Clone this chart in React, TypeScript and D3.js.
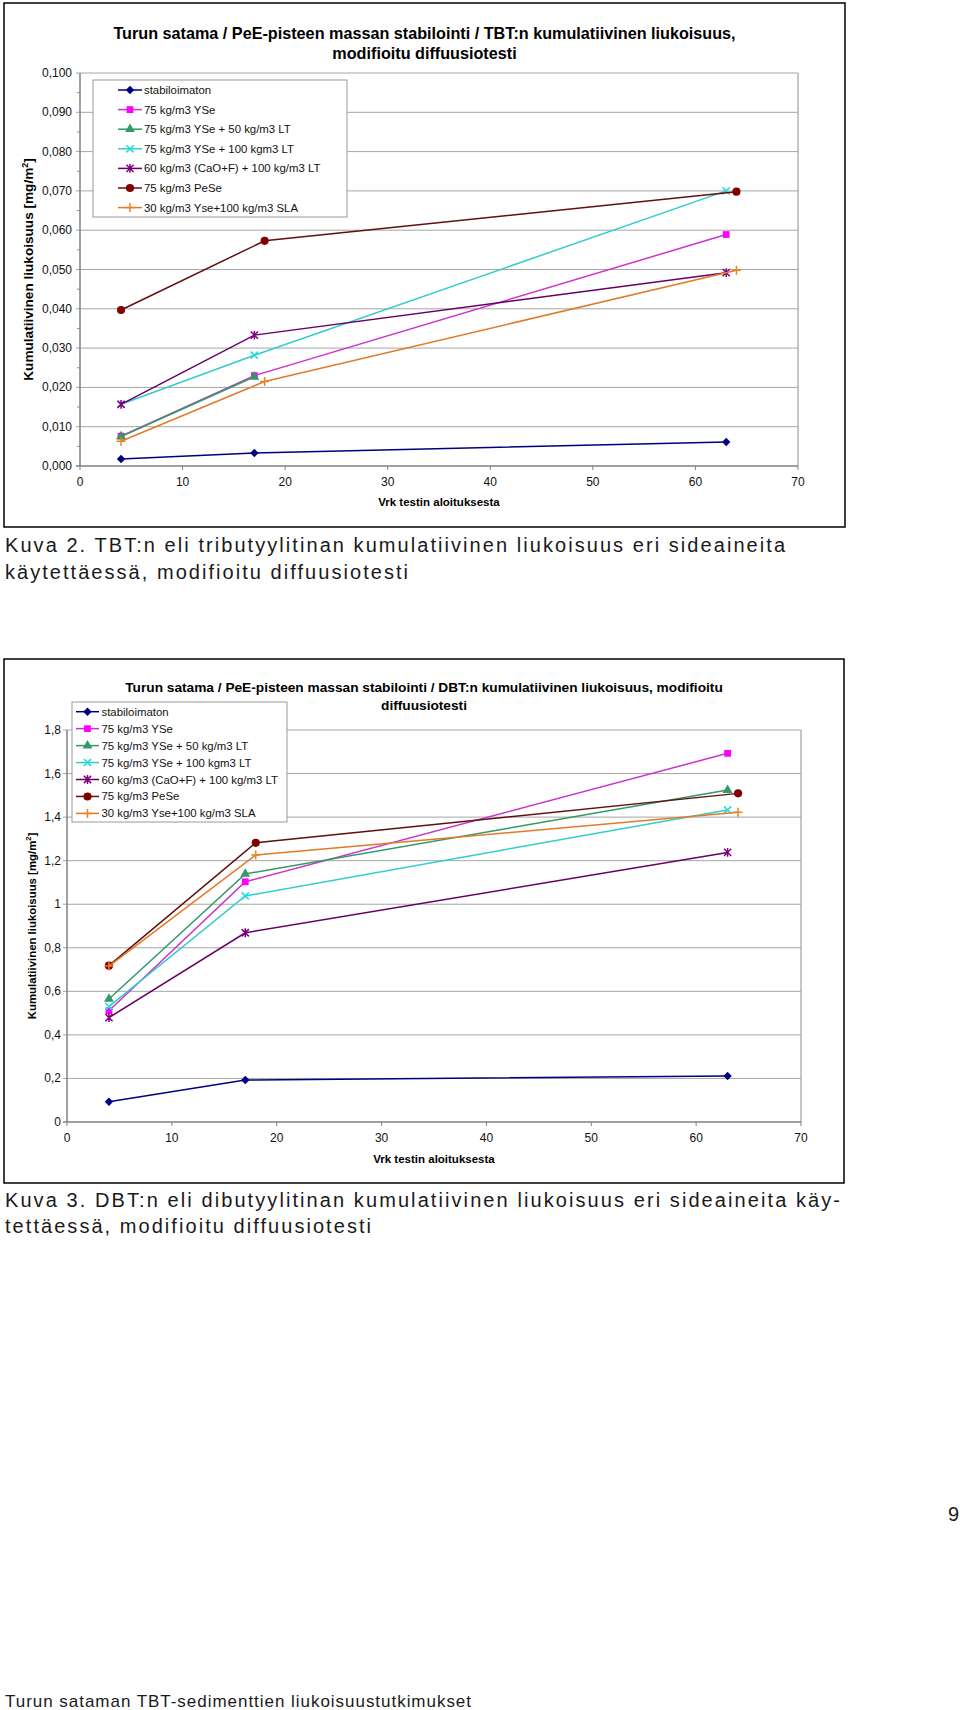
import React from "react";
import * as d3 from "d3";

const seriesNames = [
  "stabiloimaton",
  "75 kg/m3 YSe",
  "75 kg/m3 YSe + 50 kg/m3 LT",
  "75 kg/m3 YSe + 100 kgm3 LT",
  "60 kg/m3 (CaO+F) + 100 kg/m3 LT",
  "75 kg/m3 PeSe",
  "30 kg/m3 Yse+100 kg/m3 SLA",
];
const lineColors = ["#000080", "#cc33cc", "#339966", "#33cccc", "#660066", "#601010", "#e07b2a"];
const markerColors = ["#000080", "#ff00ff", "#339966", "#22dddd", "#800080", "#800000", "#f08020"];
const markerShapes = ["diamond", "square", "triangle", "x", "star", "circle", "plus"];

// days since test start
const daysMain = [4, 17, 63];
const daysShifted = [4, 18, 64];
const seriesDays = [daysMain, daysMain, daysMain, daysMain, daysMain, daysShifted, daysShifted];

// TBT (Kuva 2), mg/m2
const tbtStabiloimaton = [0.0018, 0.0033, 0.0061];
const tbtYSe = [0.0076, 0.023, 0.0589];
const tbtYSeLT50 = [0.0075, 0.0227];
const tbtYSeLT100 = [0.0157, 0.0282, 0.07];
const tbtCaOF = [0.0157, 0.0333, 0.0492];
const tbtPeSe = [0.0397, 0.0573, 0.0698];
const tbtSLA = [0.0063, 0.0215, 0.0498];

// DBT (Kuva 3), mg/m2
const dbtStabiloimaton = [0.093, 0.193, 0.211];
const dbtYSe = [0.511, 1.103, 1.693];
const dbtYSeLT50 = [0.565, 1.139, 1.524];
const dbtYSeLT100 = [0.53, 1.038, 1.433];
const dbtCaOF = [0.479, 0.869, 1.238];
const dbtPeSe = [0.718, 1.282, 1.509];
const dbtSLA = [0.716, 1.226, 1.422];

const xTicks = [0, 10, 20, 30, 40, 50, 60, 70];
const tbtYTicks = [0, 0.01, 0.02, 0.03, 0.04, 0.05, 0.06, 0.07, 0.08, 0.09, 0.1];
const dbtYTicks = [0, 0.2, 0.4, 0.6, 0.8, 1, 1.2, 1.4, 1.6, 1.8];

const tbtTitle = [
  "Turun satama / PeE-pisteen massan stabilointi / TBT:n kumulatiivinen liukoisuus,",
  "modifioitu diffuusiotesti",
];
const dbtTitle = [
  "Turun satama / PeE-pisteen massan stabilointi / DBT:n kumulatiivinen liukoisuus, modifioitu",
  "diffuusiotesti",
];
const xAxisTitle = "Vrk testin aloituksesta";

const FONT = "'Liberation Sans', Arial, Helvetica, sans-serif";

function Marker({ shape, x, y, color }: { shape: string; x: number; y: number; color: string }) {
  if (shape === "diamond") {
    const s = 4.2;
    return <path d={`M${x},${y - s}L${x + s},${y}L${x},${y + s}L${x - s},${y}Z`} fill={color} />;
  }
  if (shape === "square") {
    const p = d3.symbol(d3.symbolSquare, 46)();
    return <path d={p || ""} transform={`translate(${x},${y})`} fill={color} />;
  }
  if (shape === "triangle") {
    const p = d3.symbol(d3.symbolTriangle, 42)();
    return <path d={p || ""} transform={`translate(${x},${y})`} fill={color} />;
  }
  if (shape === "circle") {
    const p = d3.symbol(d3.symbolCircle, 52)();
    return <path d={p || ""} transform={`translate(${x},${y})`} fill={color} />;
  }
  const s = 3.6;
  if (shape === "x") {
    return (
      <path d={`M${x - s},${y - s}L${x + s},${y + s}M${x - s},${y + s}L${x + s},${y - s}`} stroke={color} strokeWidth={1.6} />
    );
  }
  if (shape === "star") {
    return (
      <path
        d={`M${x - s},${y - s}L${x + s},${y + s}M${x - s},${y + s}L${x + s},${y - s}M${x},${y - s - 0.8}L${x},${y + s + 0.8}`}
        stroke={color}
        strokeWidth={1.5}
      />
    );
  }
  // plus
  const q = 4.5;
  return <path d={`M${x - q},${y}L${x + q},${y}M${x},${y - q}L${x},${y + q}`} stroke={color} strokeWidth={1.5} />;
}

type ChartCfg = {
  frame: [number, number, number, number];
  plot: { l: number; t: number; r: number; b: number };
  yMax: number;
  yTicks: number[];
  yFmt: (v: number) => string;
  minorStep: number | null;
  title: string[];
  titleY: number[];
  titleSize: number;
  yLabelX: number;
  yLabelSize: number;
  xLabelY: number;
  xTickY: number;
  yTickGap: number;
  legend: { x0: number; y0: number; x1: number; y1: number; row0: number; step: number; s0: number; s1: number; tx: number };
  values: number[][];
};

function Chart({ cfg }: { cfg: ChartCfg }) {
  const { plot } = cfg;
  const x = d3.scaleLinear().domain([0, 70]).range([plot.l, plot.r]);
  const y = d3.scaleLinear().domain([0, cfg.yMax]).range([plot.b, plot.t]);
  const line = d3
    .line<[number, number]>()
    .x((d) => x(d[0]))
    .y((d) => y(d[1]));
  const [fx0, fy0, fx1, fy1] = cfg.frame;
  const cx = (fx0 + fx1) / 2;
  const minor: number[] = [];
  if (cfg.minorStep) {
    for (let v = cfg.minorStep; v < cfg.yMax; v += cfg.minorStep * 2) minor.push(v);
  }
  const lg = cfg.legend;
  return (
    <g>
      <rect x={fx0} y={fy0} width={fx1 - fx0} height={fy1 - fy0} fill="#fff" stroke="#000" strokeWidth={1.5} />
      {cfg.title.map((t, i) => (
        <text key={i} x={cx} y={cfg.titleY[i]} textAnchor="middle" fontFamily={FONT} fontWeight="bold" fontSize={cfg.titleSize} fill="#000">
          {t}
        </text>
      ))}
      {/* gridlines */}
      {cfg.yTicks.slice(1).map((v) => (
        <line key={v} x1={plot.l - 4} x2={plot.r} y1={y(v)} y2={y(v)} stroke="#a6a6a6" strokeWidth={1} />
      ))}
      {minor.map((v) => (
        <line key={"m" + v} x1={plot.l - 3} x2={plot.l} y1={y(v)} y2={y(v)} stroke="#909090" strokeWidth={1} />
      ))}
      <line x1={plot.r} x2={plot.r} y1={plot.t} y2={plot.b} stroke="#a0a0a0" strokeWidth={1.2} />
      <line x1={plot.l} x2={plot.l} y1={plot.t} y2={plot.b} stroke="#808080" strokeWidth={1.5} />
      <line x1={plot.l - 4} x2={plot.r} y1={plot.b} y2={plot.b} stroke="#808080" strokeWidth={1.5} />
      {xTicks.map((t) => (
        <g key={t}>
          <line x1={x(t)} x2={x(t)} y1={plot.b} y2={plot.b + 4} stroke="#808080" strokeWidth={1} />
          <text x={x(t)} y={cfg.xTickY} textAnchor="middle" fontFamily={FONT} fontSize={12} fill="#111">
            {t}
          </text>
        </g>
      ))}
      {cfg.yTicks.map((t) => (
        <text key={t} x={plot.l - cfg.yTickGap} y={y(t) + 4} textAnchor="end" fontFamily={FONT} fontSize={12} fill="#111">
          {cfg.yFmt(t)}
        </text>
      ))}
      <text x={(plot.l + plot.r) / 2} y={cfg.xLabelY} textAnchor="middle" fontFamily={FONT} fontWeight="bold" fontSize={11.5} fill="#000">
        {xAxisTitle}
      </text>
      <text
        transform={`translate(${cfg.yLabelX},${(plot.t + plot.b) / 2}) rotate(-90)`}
        textAnchor="middle"
        fontFamily={FONT}
        fontWeight="bold"
        fontSize={cfg.yLabelSize}
        fill="#000"
      >
        Kumulatiivinen liukoisuus [mg/m
        <tspan fontSize={cfg.yLabelSize * 0.65} dy={-cfg.yLabelSize * 0.4}>
          2
        </tspan>
        <tspan dy={cfg.yLabelSize * 0.4}>]</tspan>
      </text>
      {/* series */}
      {cfg.values.map((vals, si) => {
        const pts: [number, number][] = vals.map((v, i) => [seriesDays[si][i], v]);
        return (
          <g key={si}>
            <path d={line(pts) || ""} fill="none" stroke={lineColors[si]} strokeWidth={1.5} />
            {pts.map((p, i) => (
              <Marker key={i} shape={markerShapes[si]} x={x(p[0])} y={y(p[1])} color={markerColors[si]} />
            ))}
          </g>
        );
      })}
      {/* legend */}
      <rect x={lg.x0} y={lg.y0} width={lg.x1 - lg.x0} height={lg.y1 - lg.y0} fill="#fff" stroke="#9a9a9a" strokeWidth={1} />
      {seriesNames.map((n, i) => {
        const ly = lg.row0 + i * lg.step;
        return (
          <g key={n}>
            <line x1={lg.s0} x2={lg.s1} y1={ly} y2={ly} stroke={lineColors[i]} strokeWidth={1.5} />
            <Marker shape={markerShapes[i]} x={(lg.s0 + lg.s1) / 2} y={ly} color={markerColors[i]} />
            <text x={lg.tx} y={ly + 4} fontFamily={FONT} fontSize={11.4} fill="#111">
              {n}
            </text>
          </g>
        );
      })}
    </g>
  );
}

const tbtCfg: ChartCfg = {
  frame: [4, 3, 845, 527],
  plot: { l: 80, t: 73, r: 798, b: 466 },
  yMax: 0.1,
  yTicks: tbtYTicks,
  yFmt: (v) => d3.format(".3f")(v).replace(".", ","),
  minorStep: 0.005,
  title: tbtTitle,
  titleY: [39, 59],
  titleSize: 16.2,
  yLabelX: 33,
  yLabelSize: 13.6,
  xLabelY: 506,
  xTickY: 486,
  yTickGap: 8,
  legend: { x0: 93, y0: 80, x1: 347, y1: 217, row0: 90, step: 19.6, s0: 118, s1: 142, tx: 144 },
  values: [tbtStabiloimaton, tbtYSe, tbtYSeLT50, tbtYSeLT100, tbtCaOF, tbtPeSe, tbtSLA],
};

const dbtCfg: ChartCfg = {
  frame: [4, 659, 844, 1183],
  plot: { l: 67, t: 730, r: 801, b: 1122 },
  yMax: 1.8,
  yTicks: dbtYTicks,
  yFmt: (v) => (v === 0 || v === 1 ? String(v) : d3.format(".1f")(v).replace(".", ",")),
  minorStep: null,
  title: dbtTitle,
  titleY: [691.5, 710],
  titleSize: 13.7,
  yLabelX: 36,
  yLabelSize: 11.4,
  xLabelY: 1163,
  xTickY: 1142,
  yTickGap: 6,
  legend: { x0: 72, y0: 702, x1: 287, y1: 822, row0: 711.7, step: 16.95, s0: 76, s1: 99, tx: 101.5 },
  values: [dbtStabiloimaton, dbtYSe, dbtYSeLT50, dbtYSeLT100, dbtCaOF, dbtPeSe, dbtSLA],
};

const CAP = "'Liberation Sans', Arial, Helvetica, sans-serif";

export default function App() {
  return (
    <svg width={960} height={1710} style={{ position: "absolute", left: 0, top: 0, background: "#fff" }}>
      <rect x={0} y={0} width={960} height={1710} fill="#fff" />
      <Chart cfg={tbtCfg} />
      <text x={5} y={552} fontFamily={CAP} fontSize={20} fill="#1a1a1a" textLength={780} lengthAdjust="spacing">
        Kuva 2. TBT:n eli tributyylitinan kumulatiivinen liukoisuus eri sideaineita
      </text>
      <text x={5} y={579} fontFamily={CAP} fontSize={20} fill="#1a1a1a" textLength={403} lengthAdjust="spacing">
        käytettäessä, modifioitu diffuusiotesti
      </text>
      <Chart cfg={dbtCfg} />
      <text x={5} y={1207} fontFamily={CAP} fontSize={20} fill="#1a1a1a" textLength={835} lengthAdjust="spacing">
        Kuva 3. DBT:n eli dibutyylitinan kumulatiivinen liukoisuus eri sideaineita käy-
      </text>
      <text x={5} y={1233} fontFamily={CAP} fontSize={20} fill="#1a1a1a" textLength={366} lengthAdjust="spacing">
        tettäessä, modifioitu diffuusiotesti
      </text>
      <text x={959} y={1521} textAnchor="end" fontFamily={CAP} fontSize={20} fill="#1a1a1a">
        9
      </text>
      <text x={5} y={1707} fontFamily={CAP} fontSize={17} fill="#1a1a1a" textLength={466} lengthAdjust="spacing">
        Turun sataman TBT-sedimenttien liukoisuustutkimukset
      </text>
    </svg>
  );
}
